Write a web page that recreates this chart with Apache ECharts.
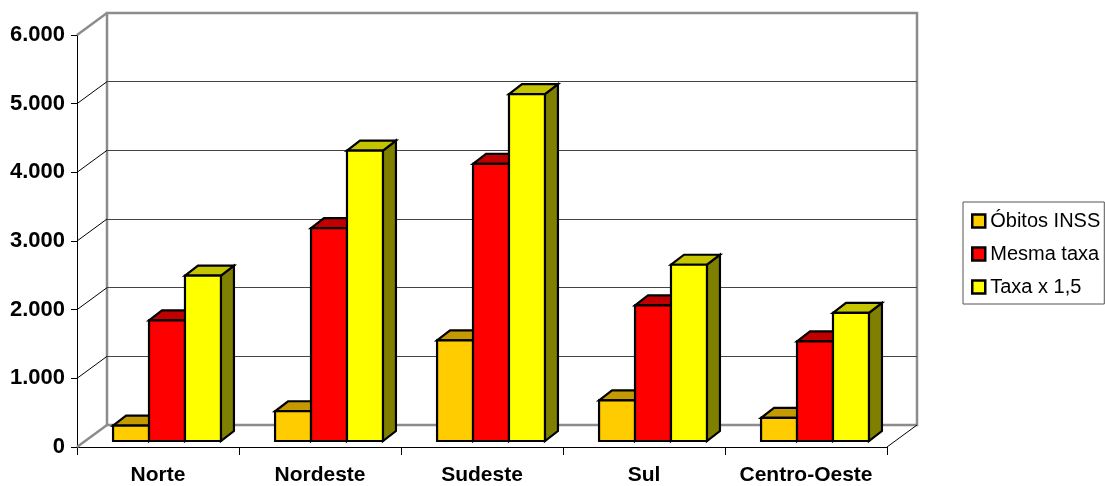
<!DOCTYPE html>
<html>
<head>
<meta charset="utf-8">
<script src="https://cdn.jsdelivr.net/npm/echarts@6/dist/echarts.min.js"></script>
<style>
  html, body { margin: 0; padding: 0; background: #fff; }
  #chart { width: 1105px; height: 486px; }
</style>
</head>
<body>
<div id="chart"></div>
<script>
const categories = ['Norte', 'Nordeste', 'Sudeste', 'Sul', 'Centro-Oeste'];
const obitosInss = [225, 433, 1466, 593, 337];
const mesmaTaxa = [1757, 3101, 4036, 1975, 1452];
const taxaX15 = [2407, 4230, 5051, 2567, 1865];
const yTicks = [0, 1000, 2000, 3000, 4000, 5000, 6000];

// profundidade do "3D" (pixels)
const WALL_DX = 30, WALL_DY = -22;
const BAR_OFF_X = 9, BAR_OFF_Y = -6;
const BAR_DX = 13, BAR_DY = -10;

const fmt = v => String(v).replace(/\B(?=(\d{3})+(?!\d))/g, '.');

function barSeries(name, values, k, front, top, side) {
  return {
    name: name,
    type: 'custom',
    xAxisIndex: 0,
    yAxisIndex: 0,
    z: 3,
    itemStyle: { color: front },
    data: values.map((v, i) => [i, v]),
    renderItem: function (params, api) {
      const idx = api.value(0);
      const p = api.coord([idx, api.value(1)]);
      const b = api.coord([idx, 0]);
      const band = api.size([1, 0])[0];
      const bw = band * 0.222;
      const x0 = p[0] - band * 0.333 + BAR_OFF_X + k * bw;
      const x1 = x0 + bw;
      const yt = p[1] + BAR_OFF_Y;
      const yb = b[1] + BAR_OFF_Y;
      const stroke = { stroke: '#000', lineWidth: 2.2, lineJoin: 'miter' };
      return {
        type: 'group',
        children: [
          {
            type: 'polygon',
            shape: { points: [[x1, yt], [x1, yb], [x1 + BAR_DX, yb + BAR_DY], [x1 + BAR_DX, yt + BAR_DY]] },
            style: Object.assign({ fill: side }, stroke)
          },
          {
            type: 'polygon',
            shape: { points: [[x0, yt], [x1, yt], [x1 + BAR_DX, yt + BAR_DY], [x0 + BAR_DX, yt + BAR_DY]] },
            style: Object.assign({ fill: top }, stroke)
          },
          {
            type: 'rect',
            shape: { x: x0, y: yt, width: bw, height: yb - yt },
            style: Object.assign({ fill: front }, stroke)
          }
        ]
      };
    }
  };
}

const chart = echarts.init(document.getElementById('chart'));
chart.setOption({
  backgroundColor: '#fff',
  animation: false,
  grid: [
    { left: 77, right: 218, top: 35, bottom: 38.5 },
    { left: 107, right: 188, top: 13, bottom: 61, show: true, backgroundColor: '#fff', borderColor: '#8c8c8c', borderWidth: 2.5 }
  ],
  legend: {
    data: ['Óbitos INSS', 'Mesma taxa', 'Taxa x 1,5'],
    orient: 'vertical',
    left: 963,
    top: 202,
    padding: [9, 4, 7, 8],
    itemGap: 13,
    itemWidth: 13,
    itemHeight: 13,
    icon: 'rect',
    borderColor: '#555',
    borderWidth: 1,
    itemStyle: { borderColor: '#000', borderWidth: 2.5 },
    textStyle: { fontFamily: 'Liberation Sans', fontSize: 20, color: '#000' }
  },
  xAxis: [
    {
      type: 'category',
      gridIndex: 0,
      data: categories,
      axisLine: { lineStyle: { color: '#000', width: 1 } },
      axisTick: { show: true, interval: 0, length: 8, lineStyle: { color: '#000' } },
      axisLabel: { interval: 0, margin: 18, fontFamily: 'Liberation Sans', fontWeight: 'bold', fontSize: 21, color: '#000' },
      splitLine: { show: false }
    },
    {
      type: 'category',
      gridIndex: 1,
      data: categories,
      show: false
    }
  ],
  yAxis: [
    {
      type: 'value',
      gridIndex: 0,
      min: 0,
      max: 6000,
      interval: 1000,
      axisLine: { show: true, lineStyle: { color: '#000', width: 1 } },
      axisTick: { show: true, length: 6, lineStyle: { color: '#000' } },
      axisLabel: { margin: 12, padding: [3, 0, 0, 0], fontFamily: 'Liberation Sans', fontWeight: 'bold', fontSize: 22, color: '#000', formatter: fmt },
      splitLine: { show: false }
    },
    {
      type: 'value',
      gridIndex: 1,
      min: 0,
      max: 6000,
      interval: 1000,
      axisLine: { show: false },
      axisTick: { show: false },
      axisLabel: { show: false },
      splitLine: { show: true, showMinLine: false, showMaxLine: false, lineStyle: { color: '#444', width: 1 } }
    }
  ],
  series: [
    {
      // linhas diagonais ligando o eixo frontal à parede do fundo
      type: 'custom',
      xAxisIndex: 0,
      yAxisIndex: 0,
      z: 1,
      silent: true,
      data: yTicks.map(v => [0, v]),
      renderItem: function (params, api) {
        const v = api.value(1);
        const cs = params.coordSys;
        const y = api.coord([0, v])[1];
        const edge = (v === yTicks[0] || v === yTicks[yTicks.length - 1]);
        const style = edge ? { stroke: '#8c8c8c', lineWidth: 2.5 } : { stroke: '#000', lineWidth: 1 };
        const children = [{
          type: 'line',
          shape: { x1: cs.x, y1: y, x2: cs.x + WALL_DX, y2: y + WALL_DY },
          style: style
        }];
        if (v === yTicks[0]) {
          children.push({
            type: 'line',
            shape: { x1: cs.x + cs.width, y1: y, x2: cs.x + cs.width + WALL_DX, y2: y + WALL_DY },
            style: { stroke: '#000', lineWidth: 1 }
          });
        }
        return { type: 'group', children: children };
      }
    },
    barSeries('Óbitos INSS', obitosInss, 0, '#ffcc00', '#c49a00', '#806600'),
    barSeries('Mesma taxa', mesmaTaxa, 1, '#ff0000', '#c00000', '#800000'),
    barSeries('Taxa x 1,5', taxaX15, 2, '#ffff00', '#c4c400', '#808000')
  ]
});
</script>
</body>
</html>
